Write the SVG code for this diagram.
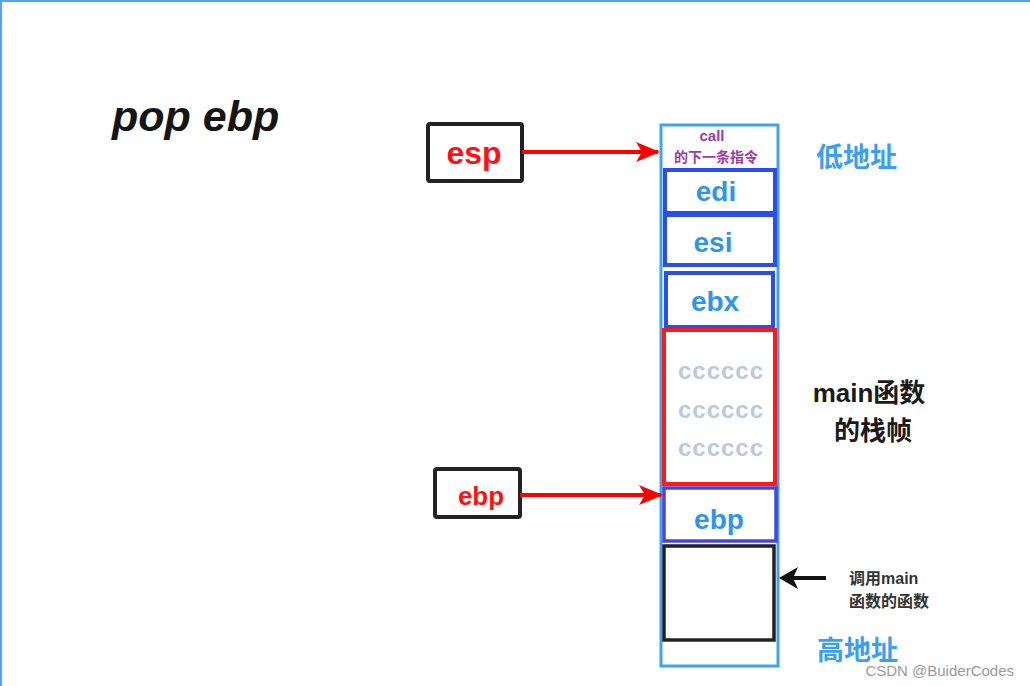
<svg xmlns="http://www.w3.org/2000/svg" width="1030" height="686" viewBox="0 0 1030 686">
<defs>
<style>
.lbl{font-family:"Liberation Sans","Noto Sans CJK SC",sans-serif;font-weight:bold}
.reg{fill:#2f95ea;font-size:28px;text-anchor:middle}
.cc{fill:#b8c9e1;font-size:24px;text-anchor:middle;letter-spacing:1px}
.addr{fill:#3a9ff0;font-size:27px}
.cell{fill:#fff;stroke:#2b4df0;stroke-width:4}
</style>
<marker id="ar" markerWidth="6" markerHeight="5" refX="5.5" refY="2.5" orient="auto" markerUnits="strokeWidth">
<path d="M0,0 L6,2.5 L0,5 L1.5,2.5 Z" fill="#ff0000"/>
</marker>
</defs>
<rect width="1030" height="686" fill="#fff"/>
<line x1="0" y1="1" x2="1030" y2="1" stroke="#4da6f5" stroke-width="2"/>
<line x1="1" y1="0" x2="1" y2="686" stroke="#4da6f5" stroke-width="2"/>
<text x="112" y="131" class="lbl" font-style="italic" font-size="43" fill="#151515">pop ebp</text>

<g id="stack">
<rect x="661" y="125" width="117" height="541" fill="#fff" stroke="#3fa3f5" stroke-width="3"/>
</g>
<g id="call-cell">
<text x="712" y="141" class="lbl" font-size="15" fill="#9a3da8" text-anchor="middle">call</text>
<text x="716" y="162" class="lbl" font-size="14" fill="#9a3da8" text-anchor="middle">的下一条指令</text>
</g>
<g id="edi"><rect class="cell" x="665" y="170" width="110" height="43"/><text class="lbl reg" x="716" y="201">edi</text></g>
<g id="esi"><rect class="cell" x="665" y="215" width="110" height="50"/><text class="lbl reg" x="713" y="252">esi</text></g>
<g id="ebx"><rect class="cell" x="666" y="273" width="107" height="54"/><text class="lbl reg" x="715" y="311">ebx</text></g>
<g id="main-frame"><rect x="664" y="330" width="111" height="154" fill="#fff" stroke="#ff1a1a" stroke-width="4"/>
<text class="lbl cc" x="721" y="379">cccccc</text>
<text class="lbl cc" x="721" y="418">cccccc</text>
<text class="lbl cc" x="721" y="456">cccccc</text>
</g>
<g id="ebp-cell"><rect x="664" y="488" width="112" height="53" fill="#fff" stroke="#4646dc" stroke-width="3.5"/><text class="lbl reg" x="719" y="529">ebp</text></g>
<g id="caller"><rect x="664" y="546" width="110" height="94" fill="#fff" stroke="#222" stroke-width="3.5"/></g>

<g id="esp-box"><rect x="428" y="124" width="94" height="57" rx="2" fill="#fff" stroke="#222" stroke-width="4"/><text class="lbl" x="474" y="164" font-size="32" fill="#ff1111" text-anchor="middle">esp</text></g>
<g id="ebp-box"><rect x="435" y="469" width="85" height="48" rx="2" fill="#fff" stroke="#222" stroke-width="4"/><text class="lbl" x="481" y="505" font-size="26" fill="#ff1111" text-anchor="middle">ebp</text></g>

<g id="labels">
<text class="lbl addr" x="816" y="167">低地址</text>
<text class="lbl addr" x="817" y="660">高地址</text>
<text class="lbl" x="869" y="402" font-size="26" fill="#1a1a1a" text-anchor="middle">main函数</text>
<text class="lbl" x="873" y="440" font-size="26" fill="#1a1a1a" text-anchor="middle">的栈帧</text>
<text class="lbl" x="849" y="584" font-size="16" fill="#333">调用main</text>
<text class="lbl" x="849" y="607" font-size="16" fill="#333">函数的函数</text>
</g>

<g id="connectors">
<line x1="522" y1="152" x2="658" y2="152" stroke="#ff0000" stroke-width="4" marker-end="url(#ar)"/>
<line x1="520" y1="495" x2="661" y2="495" stroke="#ff0000" stroke-width="4" marker-end="url(#ar)"/>
<line x1="792" y1="578" x2="826" y2="578" stroke="#111" stroke-width="4"/>
<path d="M779,578 L798,567 L793,578 L798,589 Z" fill="#111"/>
</g>
<text x="1014" y="676" font-family="Liberation Sans, sans-serif" font-size="15" fill="#9a9a9a" text-anchor="end">CSDN @BuiderCodes</text>
</svg>
